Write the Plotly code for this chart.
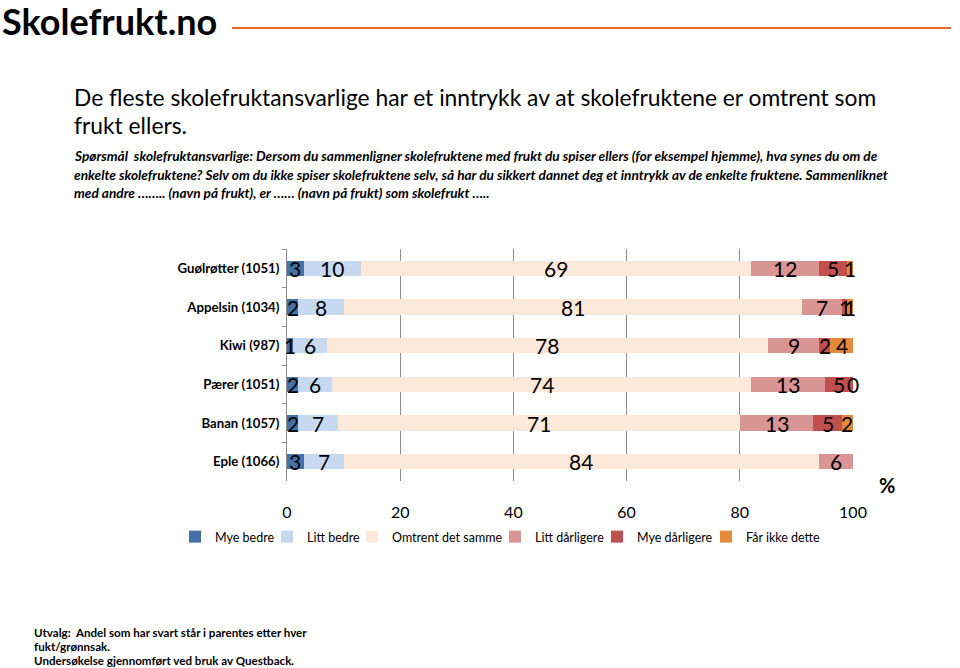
import plotly.graph_objects as go

categories = ["Guølrøtter (1051)", "Appelsin (1034)", "Kiwi (987)",
              "Pærer (1051)", "Banan (1057)", "Eple (1066)"]
series_names = ["Mye bedre", "Litt bedre", "Omtrent det samme",
                "Litt dårligere", "Mye dårligere", "Får ikke dette"]
mye_bedre = [3, 2, 1, 2, 2, 3]
litt_bedre = [10, 8, 6, 6, 7, 7]
omtrent = [69, 81, 78, 74, 71, 84]
litt_darligere = [12, 7, 9, 13, 13, 6]
mye_darligere = [5, 1, 2, 5, 5, None]
far_ikke = [1, 1, 4, 0, 2, None]
x_ticks = [0, 20, 40, 60, 80, 100]

series_values = [mye_bedre, litt_bedre, omtrent, litt_darligere, mye_darligere, far_ikke]
colors = ["#4472A6", "#C6D9F0", "#FDE9DA", "#D99594", "#C0504D", "#E5893A"]
# left pixel of each legend entry's text in the reference
legend_text_x = [211, 303, 388, 531, 633, 742]

FONT = "Lato"
L, R, T, B = 287, 853, 249, 481
W, H = 960, 668


def px(x):
    return (x - L) / (R - L)


def py(y):
    return (B - y) / (B - T)


fig = go.Figure()
legend_layouts = {}
for i, (name, vals, col) in enumerate(zip(series_names, series_values, colors)):
    lname = "legend" if i == 0 else f"legend{i + 1}"
    fig.add_trace(go.Bar(
        y=categories, x=[v if v is not None else 0 for v in vals],
        name=name, orientation="h", marker=dict(color=col, line=dict(width=0)),
        hoverinfo="x+name", legend=lname,
    ))
    legend_layouts[lname] = dict(
        orientation="h", xref="paper", yref="paper",
        x=px(legend_text_x[i] - 36), y=py(537), xanchor="left", yanchor="middle",
        font=dict(family=FONT, size=12.5, color="#000000"), itemwidth=30,
        bgcolor="rgba(0,0,0,0)",
    )

annotations = []
# segment labels
for ci, cat in enumerate(categories):
    start = 0
    for vals in series_values:
        v = vals[ci]
        if v is None:
            continue
        annotations.append(dict(
            x=start + v / 2, y=cat, xref="x", yref="y", text=str(v),
            showarrow=False, font=dict(family=FONT, size=21, color="#000000"),
            xanchor="center", yanchor="middle",
        ))
        start += v


def txt(x, y, text, size, bold=False, italic=False, color="#000000"):
    t = text
    if italic:
        t = "<i>" + t + "</i>"
    if bold:
        t = "<b>" + t + "</b>"
    annotations.append(dict(
        x=px(x), y=py(y), xref="paper", yref="paper", text=t, showarrow=False,
        xanchor="left", yanchor="middle", font=dict(family=FONT, size=size, color=color),
    ))


txt(0, 21, "Skolefrukt.no", 36, bold=True)
txt(72, 97, "De fleste skolefruktansvarlige har et inntrykk av at skolefruktene er omtrent som", 22.8)
txt(72, 125, "frukt ellers.", 22.8)
txt(72, 156, "Spørsmål \u00a0skolefruktansvarlige: Dersom du sammenligner skolefruktene med frukt du spiser ellers (for eksempel hjemme), hva synes du om de", 13.65, bold=True, italic=True)
txt(72, 175, "enkelte skolefruktene? Selv om du ikke spiser skolefruktene selv, så har du sikkert dannet deg et inntrykk av de enkelte fruktene. Sammenliknet", 13.65, bold=True, italic=True)
txt(72, 193, "med andre …….. (navn på frukt), er …… (navn på frukt) som skolefrukt …..", 13.65, bold=True, italic=True)
txt(877, 485, "%", 20, bold=True)
txt(32, 632, "Utvalg: \u00a0Andel som har svart står i parentes etter hver", 11.6, bold=True)
txt(32, 646, "fukt/grønnsak.", 11.6, bold=True)
txt(32, 660, "Undersøkelse gjennomført ved bruk av Questback.", 11.6, bold=True)

shapes = [dict(type="line", xref="paper", yref="paper", x0=px(232), x1=px(951),
               y0=py(28), y1=py(28), line=dict(color="#E8662E", width=2))]

fig.update_layout(
    width=W, height=H,
    margin=dict(l=L, r=W - R, t=T, b=H - B, autoexpand=False),
    barmode="stack", bargap=0.6,
    paper_bgcolor="white", plot_bgcolor="white",
    font=dict(family=FONT, color="#000000"),
    showlegend=True,
    annotations=annotations, shapes=shapes,
    xaxis=dict(range=[0, 100], tickvals=x_ticks, showgrid=True, gridcolor="#8C8C8C",
               gridwidth=1, zeroline=False, showline=False, ticks="",
               tickfont=dict(family=FONT, size=16, color="#000000"),
               ticklabelstandoff=20, fixedrange=True),
    yaxis=dict(autorange="reversed", showline=True, linecolor="#8C8C8C", linewidth=1,
               ticks="outside", tickson="boundaries", ticklen=4, tickcolor="#8C8C8C",
               tickfont=dict(family=FONT, size=13.2, color="#000000", weight="bold"),
               ticklabelstandoff=4,
               showgrid=False, zeroline=False, fixedrange=True),
    **legend_layouts,
)

fig.write_html("out.html")
